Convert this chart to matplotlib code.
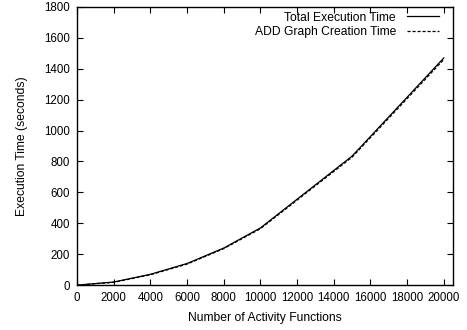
import matplotlib
matplotlib.use("Agg")
import matplotlib.pyplot as plt

plt.rcParams['font.family'] = ['Liberation Sans', 'DejaVu Sans']

# data
num_functions = [0, 2000, 4000, 6000, 8000, 10000, 15000, 20000]
total_time = [0, 20, 70, 140, 240, 370, 835, 1470]
add_time = [0, 18, 67, 136, 236, 365, 828, 1460]

fig = plt.figure(figsize=(4.67, 3.3), dpi=100)
ax = fig.add_axes([0.165, 0.136, 0.805, 0.843])

ax.plot(num_functions, total_time, color='black', lw=0.9, label='Total Execution Time')
ax.plot(num_functions, add_time, color='black', lw=0.9, ls=(0, (2.5, 1.5)),
        label='ADD Graph Creation Time')

ax.set_xlim(0, 20500)
ax.set_ylim(0, 1800)
ax.set_xticks(range(0, 20001, 2000))
ax.set_yticks(range(0, 1801, 200))
ax.tick_params(direction='in', top=True, right=True, labelsize=8.3, length=4, width=0.8, pad=5)
for s in ax.spines.values():
    s.set_linewidth(1.0)

ax.set_xlabel('Number of Activity Functions', fontsize=8.7, labelpad=6)
ax.set_ylabel('Execution Time (seconds)', fontsize=8.7, labelpad=12)

ax.legend(loc='upper right', frameon=False, fontsize=8.7, markerfirst=False,
          handlelength=2.7, handletextpad=0.9, labelspacing=0.2,
          borderaxespad=0.3, borderpad=0.2, bbox_to_anchor=(0.98, 1.005))

fig.savefig('out.png', dpi=100)
